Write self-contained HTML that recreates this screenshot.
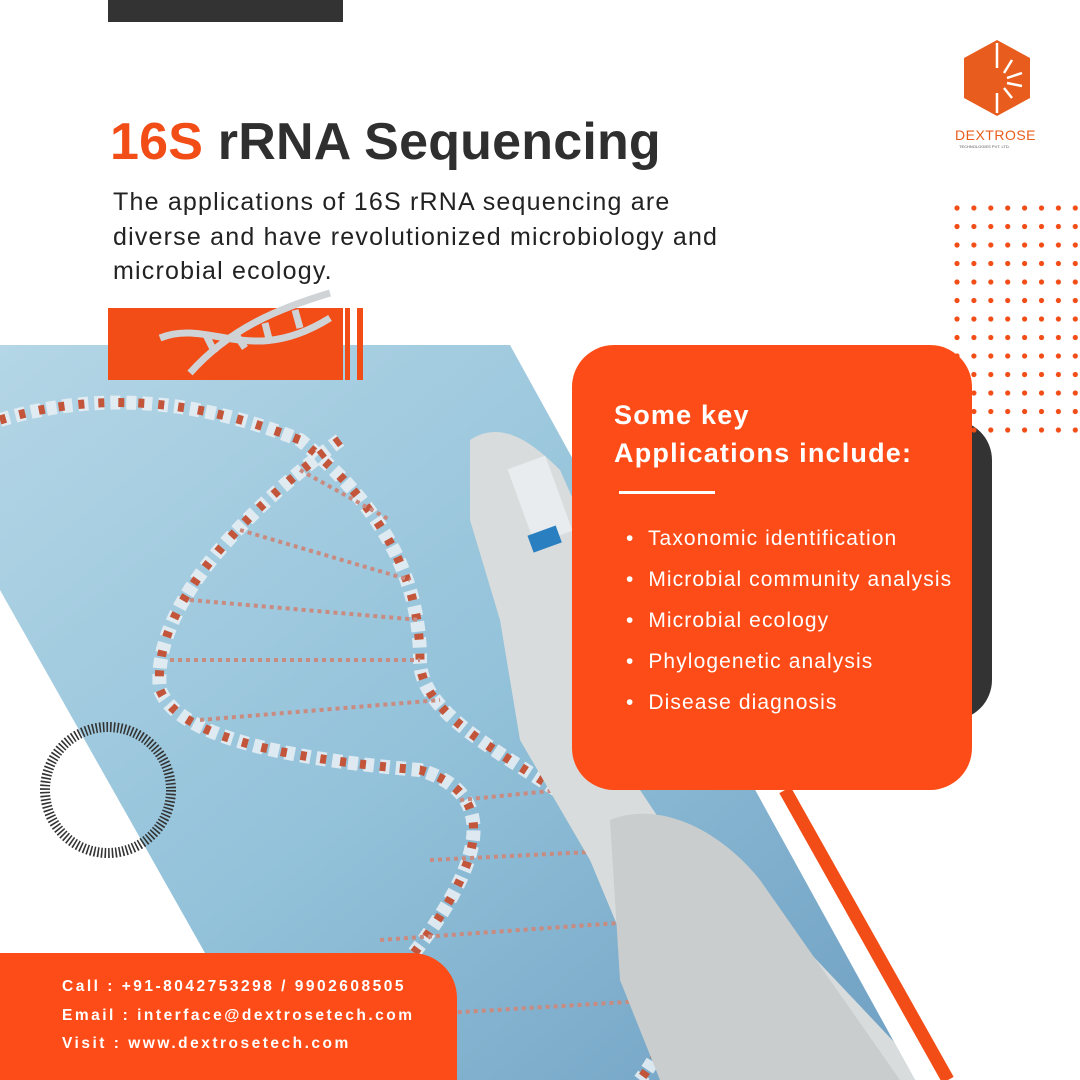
<!DOCTYPE html>
<html><head><meta charset="utf-8"><style>
body{margin:0;width:1080px;height:1080px;overflow:hidden;background:#fff;font-family:"Liberation Sans",sans-serif;position:relative}
.a{position:absolute}
</style></head><body>
<svg class="a" style="left:0;top:0" width="1080" height="1080">
<defs>
<linearGradient id="bg" x1="0" y1="0" x2="1" y2="1">
<stop offset="0" stop-color="#b4d6e6"/><stop offset="0.5" stop-color="#93c2da"/><stop offset="1" stop-color="#6f9fc2"/></linearGradient>
<clipPath id="cp"><polygon points="0,345 510,345 915,1080 205,1080 205,953 0,590"/></clipPath>
</defs>
<polygon points="0,345 510,345 915,1080 205,1080 205,953 0,590" fill="url(#bg)"/>
<g clip-path="url(#cp)">
<path d="M0,420 C100,390 200,400 300,440 C400,520 420,600 420,660 C420,720 520,760 600,820 C700,900 700,1000 640,1080" fill="none" stroke="#e6edf3" stroke-width="14" stroke-dasharray="10 6" opacity="0.9"/>
<path d="M0,420 C100,390 200,400 300,440 C400,520 420,600 420,660 C420,720 520,760 600,820 C700,900 700,1000 640,1080" fill="none" stroke="#c2553a" stroke-width="9" stroke-dasharray="6 14"/>
<path d="M340,440 C260,500 150,600 160,690 C180,740 300,760 420,770 C520,800 480,900 300,1080" fill="none" stroke="#e6edf3" stroke-width="14" stroke-dasharray="10 6" opacity="0.9"/>
<path d="M340,440 C260,500 150,600 160,690 C180,740 300,760 420,770 C520,800 480,900 300,1080" fill="none" stroke="#c2553a" stroke-width="9" stroke-dasharray="6 14"/>
<g stroke="#c98a80" stroke-width="4" stroke-dasharray="4 4">
<line x1="300" y1="470" x2="390" y2="520"/><line x1="240" y1="530" x2="410" y2="580"/><line x1="190" y1="600" x2="420" y2="620"/><line x1="170" y1="660" x2="420" y2="660"/><line x1="200" y1="720" x2="440" y2="700"/>
<line x1="460" y1="800" x2="560" y2="790"/><line x1="430" y1="860" x2="630" y2="850"/><line x1="380" y1="940" x2="660" y2="920"/><line x1="330" y1="1020" x2="660" y2="1000"/>
</g>
<path d="M470,440 C500,420 530,440 560,470 L600,560 L620,760 L660,820 L760,900 L930,1080 L680,1080 L640,980 L590,860 L520,740 L500,620 L470,520 Z" fill="#d8dcdc"/>
<path d="M610,820 C660,800 720,830 760,880 L900,1080 L660,1080 L620,980 Z" fill="#c9cdcd"/>
<rect x="520" y="460" width="40" height="80" fill="#e8ecee" transform="rotate(-20 540 500)"/>
<rect x="530" y="530" width="30" height="18" fill="#2a7fc0" transform="rotate(-20 545 540)"/>
</g>
<line x1="785" y1="790" x2="948" y2="1080" stroke="#f24c17" stroke-width="13"/>
<circle cx="108" cy="790" r="63" fill="none" stroke="#333" stroke-width="10" stroke-dasharray="1.6 2"/>
</svg>
<div class="a" style="left:108px;top:0;width:235px;height:22px;background:#333"></div>
<div class="a" style="left:110px;top:112px;font-size:52px;font-weight:bold;color:#2f2f2f;letter-spacing:0.2px"><span style="color:#f24c17">16S</span> rRNA Sequencing</div>
<div class="a" style="left:113px;top:185px;font-size:25px;line-height:34.5px;color:#222;width:760px;letter-spacing:1.2px">The applications of 16S rRNA sequencing are<br>diverse and have revolutionized microbiology and<br>microbial ecology.</div>
<div class="a" style="left:108px;top:308px;width:235px;height:72px;background:#f24c17"></div>
<div class="a" style="left:345px;top:308px;width:5px;height:72px;background:#f24c17"></div>
<div class="a" style="left:357px;top:308px;width:6px;height:72px;background:#f24c17"></div>
<svg class="a" style="left:150px;top:288px" width="200" height="95"><g fill="none" stroke="#cfd3d6" stroke-width="7"><path d="M10,50 C60,30 100,80 180,30"/><path d="M40,85 C80,40 130,20 180,5"/><line x1="55" y1="45" x2="65" y2="65"/><line x1="85" y1="45" x2="95" y2="60"/><line x1="115" y1="35" x2="120" y2="55"/><line x1="145" y1="22" x2="150" y2="40"/></g></svg>
<div class="a" style="left:940px;top:420px;width:52px;height:300px;background:#333;border-radius:0 40px 40px 0"></div>
<svg class="a" style="left:950px;top:200px" width="130" height="240"><defs><pattern id="d" x="0" y="0" width="16.9" height="18.5" patternUnits="userSpaceOnUse"><circle cx="7" cy="8" r="2.6" fill="#f24c17"/></pattern></defs><rect width="130" height="240" fill="url(#d)"/></svg>
<div class="a" style="left:572px;top:345px;width:400px;height:445px;background:#fd4c17;border-radius:42px"></div>
<div class="a" style="left:614px;top:396px;font-size:27px;line-height:38px;font-weight:bold;color:#fff;letter-spacing:1.2px">Some key<br>Applications include:</div>
<div class="a" style="left:619px;top:491px;width:96px;height:3px;background:#fff"></div>
<div class="a" style="left:626px;top:518px;font-size:21px;line-height:41px;color:#fff;letter-spacing:1.1px">
<div>•&nbsp; Taxonomic identification</div><div>•&nbsp; Microbial community analysis</div><div>•&nbsp; Microbial ecology</div><div>•&nbsp; Phylogenetic analysis</div><div>•&nbsp; Disease diagnosis</div></div>
<div class="a" style="left:0;top:953px;width:457px;height:127px;background:#fd4c17;border-radius:0 45px 0 0"></div>
<div class="a" style="left:62px;top:973px;font-size:15.5px;line-height:28.5px;font-weight:bold;color:#fff;letter-spacing:2.5px">Call : +91-8042753298 / 9902608505<br>Email : interface@dextrosetech.com<br>Visit : www.dextrosetech.com</div>
<svg class="a" style="left:962px;top:38px" width="70" height="80"><polygon points="35,2 68,20 68,60 35,78 2,60 2,20" fill="#e85d1d"/><g stroke="#fff" stroke-width="2.5"><line x1="35" y1="5" x2="35" y2="30"/><line x1="50" y1="22" x2="42" y2="35"/><line x1="60" y1="35" x2="45" y2="40"/><line x1="60" y1="48" x2="45" y2="45"/><line x1="50" y1="60" x2="42" y2="50"/><line x1="35" y1="75" x2="35" y2="55"/></g></svg>
<div class="a" style="left:955px;top:127px;font-size:14px;color:#e85d1d;letter-spacing:0.5px">DEXTROSE</div>
<div class="a" style="left:959px;top:144px;font-size:4px;color:#555">TECHNOLOGIES PVT. LTD.</div>
</body></html>
